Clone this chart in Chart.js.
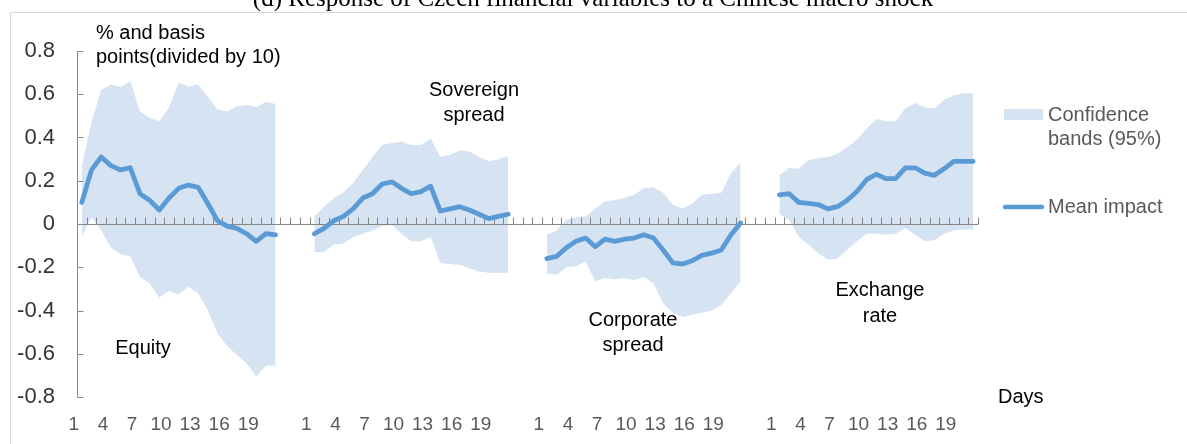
<!DOCTYPE html>
<html>
<head>
<meta charset="utf-8">
<script src="https://cdn.jsdelivr.net/npm/chart.js@4.4.1/dist/chart.umd.min.js"></script>
<style>
  body { margin: 0; background: #fff; }
  #wrap { width: 1187px; height: 444px; }
</style>
</head>
<body>
<div id="wrap"><canvas id="chart" width="1187" height="444"></canvas></div>
<script>
// panels, in order left to right
const panels = ['Equity', 'Sovereign spread', 'Corporate spread', 'Exchange rate'];
const days = [1, 2, 3, 4, 5, 6, 7, 8, 9, 10, 11, 12, 13, 14, 15, 16, 17, 18, 19, 20, 21];
const shownDays = [1, 4, 7, 10, 13, 16, 19];
const gapSize = 3; // empty categories between panels

// mean impact and 95% bands
const equityMean = [0.10, 0.25, 0.31, 0.27, 0.25, 0.26, 0.14, 0.11, 0.065, 0.12, 0.165, 0.18, 0.17, 0.095, 0.015, -0.01, -0.02, -0.045, -0.08, -0.045, -0.05];
const equityUpper = [0.27, 0.47, 0.62, 0.645, 0.635, 0.66, 0.52, 0.49, 0.475, 0.54, 0.655, 0.635, 0.645, 0.59, 0.53, 0.52, 0.545, 0.55, 0.54, 0.565, 0.555];
const equityLower = [-0.06, 0.03, -0.03, -0.11, -0.14, -0.15, -0.245, -0.275, -0.34, -0.31, -0.325, -0.29, -0.32, -0.40, -0.505, -0.565, -0.605, -0.645, -0.705, -0.655, -0.655];

const sovereignMean = [-0.045, -0.02, 0.015, 0.035, 0.07, 0.12, 0.14, 0.185, 0.195, 0.165, 0.14, 0.15, 0.175, 0.06, 0.07, 0.08, 0.065, 0.045, 0.025, 0.035, 0.045];
const sovereignUpper = [0.035, 0.08, 0.12, 0.145, 0.19, 0.25, 0.31, 0.365, 0.375, 0.38, 0.365, 0.365, 0.395, 0.31, 0.32, 0.34, 0.335, 0.31, 0.29, 0.30, 0.315];
const sovereignLower = [-0.13, -0.13, -0.095, -0.09, -0.06, -0.045, -0.03, -0.01, -0.005, -0.045, -0.08, -0.08, -0.06, -0.18, -0.185, -0.19, -0.205, -0.22, -0.225, -0.225, -0.225];

const corporateMean = [-0.16, -0.15, -0.11, -0.08, -0.065, -0.105, -0.07, -0.08, -0.07, -0.065, -0.05, -0.065, -0.12, -0.18, -0.185, -0.17, -0.145, -0.135, -0.12, -0.05, 0.005];
const corporateUpper = [-0.05, -0.03, 0.02, 0.03, 0.035, 0.07, 0.105, 0.11, 0.12, 0.135, 0.165, 0.17, 0.145, 0.09, 0.07, 0.095, 0.135, 0.14, 0.145, 0.235, 0.285];
const corporateLower = [-0.23, -0.235, -0.2, -0.195, -0.175, -0.265, -0.25, -0.255, -0.25, -0.26, -0.245, -0.275, -0.365, -0.41, -0.43, -0.42, -0.41, -0.4, -0.375, -0.32, -0.265];

const exchangeMean = [0.135, 0.14, 0.1, 0.095, 0.09, 0.07, 0.08, 0.11, 0.15, 0.205, 0.23, 0.21, 0.21, 0.26, 0.26, 0.235, 0.225, 0.255, 0.29, 0.29, 0.29];
const exchangeUpper = [0.225, 0.26, 0.255, 0.295, 0.305, 0.31, 0.325, 0.355, 0.39, 0.44, 0.485, 0.475, 0.475, 0.535, 0.56, 0.54, 0.535, 0.575, 0.595, 0.605, 0.605];
const exchangeLower = [0.045, 0.02, -0.06, -0.095, -0.135, -0.165, -0.16, -0.12, -0.08, -0.045, -0.045, -0.05, -0.045, -0.02, -0.05, -0.08, -0.075, -0.045, -0.03, -0.025, -0.025];

const yTicks = [-0.8, -0.6, -0.4, -0.2, 0, 0.2, 0.4, 0.6, 0.8];

const BLUE = '#5b9bd5';
const BAND = '#d6e3f3';
const AXIS = '#868686';
const FONT = "'Liberation Sans', Arial, sans-serif";

// join the four panels onto one category axis, with empty slots between
function joinPanels(series) {
    const out = [];
    series.forEach((s, i) => {
        if (i > 0) for (let k = 0; k < gapSize; k++) out.push(null);
        s.forEach(v => out.push(v));
    });
    return out;
}
const labels = [];
panels.forEach((p, i) => {
    if (i > 0) for (let k = 0; k < gapSize; k++) labels.push('');
    days.forEach(d => labels.push(String(d)));
});

const meanAll = joinPanels([equityMean, sovereignMean, corporateMean, exchangeMean]);
const upperAll = joinPanels([equityUpper, sovereignUpper, corporateUpper, exchangeUpper]);
const lowerAll = joinPanels([equityLower, sovereignLower, corporateLower, exchangeLower]);

function text(ctx, str, x, y, align, color, size) {
    ctx.fillStyle = color;
    ctx.font = size + 'px ' + FONT;
    ctx.textAlign = align;
    ctx.textBaseline = 'middle';
    ctx.fillText(str, x, y);
}

const decor = {
    id: 'decor',
    beforeDraw(chart) {
        const ctx = chart.ctx;
        ctx.save();
        // frame
        ctx.strokeStyle = '#d9d9d9';
        ctx.lineWidth = 1;
        ctx.beginPath();
        ctx.moveTo(10.5, 444);
        ctx.lineTo(10.5, 12.5);
        ctx.lineTo(1187, 12.5);
        ctx.stroke();
        // title, cut off at the top like the source
        ctx.fillStyle = '#000';
        ctx.font = "25px 'Liberation Serif', 'Times New Roman', serif";
        ctx.textAlign = 'center';
        ctx.textBaseline = 'alphabetic';
        ctx.fillText('(d) Response of Czech financial variables to a Chinese macro shock', 593, 6);
        ctx.restore();
    },
    beforeDatasetDraw(chart, args) {
        if (args.index !== 2) return;
        // axes drawn over the bands but under the mean line
        const ctx = chart.ctx;
        const x = chart.scales.x, y = chart.scales.y;
        const area = chart.chartArea;
        ctx.save();
        ctx.strokeStyle = AXIS;
        ctx.lineWidth = 1;
        ctx.beginPath();
        const ax = Math.round(area.left) + 0.5;
        ctx.moveTo(ax, area.top);
        ctx.lineTo(ax, area.bottom);
        yTicks.forEach(v => {
            const py = Math.round(y.getPixelForValue(v)) + 0.5;
            ctx.moveTo(ax, py);
            ctx.lineTo(ax + 6, py);
        });
        const zy = Math.round(y.getPixelForValue(0)) + 0.5;
        ctx.moveTo(area.left, zy);
        ctx.lineTo(area.right, zy);
        const n = labels.length;
        const step = x.getPixelForValue(1) - x.getPixelForValue(0);
        for (let i = 0; i <= n; i++) {
            const px = Math.round(x.getPixelForValue(i) - step / 2) + 0.5;
            ctx.moveTo(px, zy);
            ctx.lineTo(px, zy - 7);
        }
        ctx.stroke();
        ctx.restore();
    },
    afterDraw(chart) {
        const ctx = chart.ctx;
        ctx.save();
        // annotations
        text(ctx, '% and basis', 96, 33, 'left', '#000', 20);
        text(ctx, 'points(divided by 10)', 96, 57, 'left', '#000', 20);
        text(ctx, 'Sovereign', 474, 90, 'center', '#000', 20);
        text(ctx, 'spread', 474, 115, 'center', '#000', 20);
        text(ctx, 'Equity', 143, 348, 'center', '#000', 20);
        text(ctx, 'Corporate', 633, 320, 'center', '#000', 20);
        text(ctx, 'spread', 633, 345, 'center', '#000', 20);
        text(ctx, 'Exchange', 880, 290, 'center', '#000', 20);
        text(ctx, 'rate', 880, 316, 'center', '#000', 20);
        text(ctx, 'Days', 998, 397, 'left', '#000', 20);
        // legend
        ctx.fillStyle = BAND;
        ctx.fillRect(1004, 109, 39, 11);
        text(ctx, 'Confidence', 1048, 115, 'left', '#595959', 20);
        text(ctx, 'bands (95%)', 1048, 139, 'left', '#595959', 20);
        ctx.strokeStyle = BLUE;
        ctx.lineWidth = 4.5;
        ctx.lineCap = 'round';
        ctx.beginPath();
        ctx.moveTo(1005, 207);
        ctx.lineTo(1042, 207);
        ctx.stroke();
        text(ctx, 'Mean impact', 1048, 207, 'left', '#595959', 20);
        ctx.restore();
    }
};

new Chart(document.getElementById('chart').getContext('2d'), {
    type: 'line',
    data: {
        labels,
        datasets: [
            {label: 'lower', data: lowerAll, borderWidth: 0, pointRadius: 0, fill: false, order: 3, spanGaps: false},
            {label: 'Confidence bands (95%)', data: upperAll, borderWidth: 0, pointRadius: 0,
             backgroundColor: BAND, fill: '-1', order: 2, spanGaps: false},
            {label: 'Mean impact', data: meanAll, borderColor: BLUE, borderWidth: 4.8, pointRadius: 0,
             borderJoinStyle: 'round', borderCapStyle: 'round', fill: false, order: 1, spanGaps: false}
        ]
    },
    options: {
        responsive: false,
        animation: false,
        events: [],
        layout: {padding: {left: 0, top: 51, right: 209, bottom: 0}},
        plugins: {legend: {display: false}, tooltip: {enabled: false}},
        scales: {
            x: {
                offset: true,
                grid: {display: false, drawTicks: false},
                border: {display: false},
                ticks: {
                    autoSkip: false, maxRotation: 0, padding: 16, labelOffset: -8,
                    color: '#595959', font: {family: FONT, size: 19},
                    callback: (v, i) => shownDays.includes(Number(labels[i])) ? labels[i] : ''
                },
                afterFit: s => { s.height = 47; }
            },
            y: {
                min: -0.8, max: 0.8,
                grid: {display: false, drawTicks: false},
                border: {display: false},
                ticks: {
                    stepSize: 0.2, padding: 22, color: '#333333', font: {family: FONT, size: 22},
                    callback: v => Math.abs(v) < 1e-9 ? '0' : v.toFixed(1)
                },
                afterFit: s => { s.width = 77; }
            }
        }
    },
    plugins: [decor]
});
</script>
</body>
</html>
